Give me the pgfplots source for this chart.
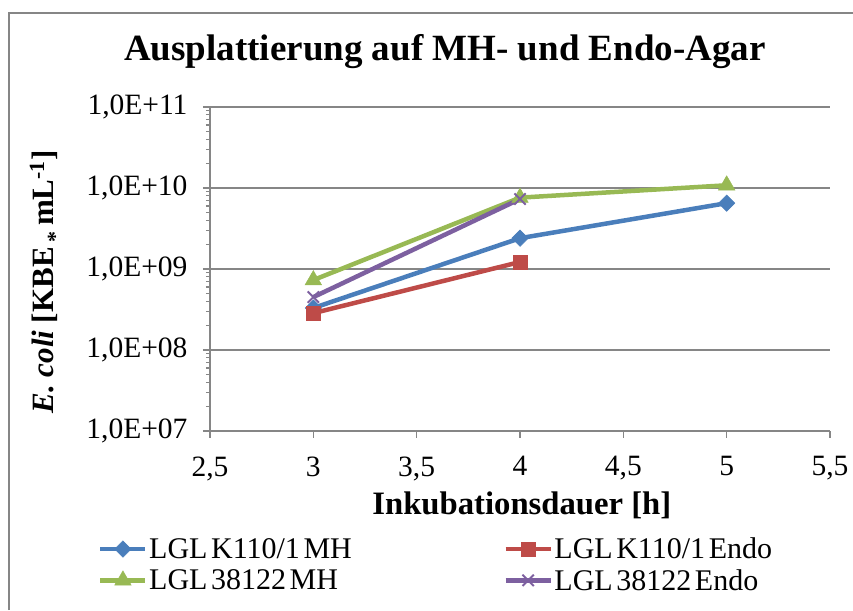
\documentclass[border=0pt]{standalone}
\usepackage{fontspec}
\setmainfont{Liberation Serif}
\usepackage{pgfplots}
\pgfplotsset{compat=1.18}
\definecolor{cblue}{RGB}{74,126,187}
\definecolor{cred}{RGB}{190,75,72}
\definecolor{cgreen}{RGB}{152,185,84}
\definecolor{cpurple}{RGB}{125,96,160}
\definecolor{gridgray}{RGB}{134,134,134}
\newcommand{\ns}{\hspace{0.12em}}
\begin{document}
\begin{tikzpicture}
\useasboundingbox (-205pt,-179pt) rectangle (648pt,431pt);
\draw[color=gridgray, line width=1.2pt] (-196pt,-179pt) -- (-196pt,418pt) -- (648pt,418pt);
\begin{axis}[
  at={(5pt,0pt)}, anchor=south west,
  scale only axis, width=620pt, height=324pt,
  ymode=log, xmin=2.5, xmax=5.5, ymin=1e7, ymax=1e11,
  /pgf/number format/assume math mode=true,
  axis x line*=bottom, axis y line*=left,
  axis line style={gridgray, line width=1.2pt},
  xtick={2.5,3,3.5,4,4.5,5,5.5},
  xticklabels={{2,5},3,{3,5},4,{4,5},5,{5,5}},
  ytick={1e7,1e8,1e9,1e10,1e11},
  yticklabels={{1,0E+07},{1,0E+08},{1,0E+09},{1,0E+10},{1,0E+11}},
  minor ytick={2e7,3e7,4e7,5e7,6e7,7e7,8e7,9e7,2e8,3e8,4e8,5e8,6e8,7e8,8e8,9e8,2e9,3e9,4e9,5e9,6e9,7e9,8e9,9e9,2e10,3e10,4e10,5e10,6e10,7e10,8e10,9e10},
  ymajorgrids, yminorgrids=false,
  grid style={gridgray, line width=1.2pt},
  tick style={gridgray, line width=1.2pt},
  tick align=outside, major tick length=7pt, minor tick length=4pt,
  ticklabel style={font=\fontsize{29.5}{32}\selectfont},
  xticklabel style={yshift=-15pt},
  yticklabel style={xshift=-12pt},
  title={Ausplattierung auf MH- und Endo-Agar},
  title style={font=\fontsize{37}{44}\selectfont\bfseries, at={(axis description cs:0.379,1.154)}, anchor=center},
  xlabel={Inkubationsdauer [h]},
  xlabel style={font=\fontsize{32.7}{36}\selectfont\bfseries, at={(axis description cs:0.503,-0.231)}, anchor=center},
  ylabel={\textit{E. coli} [KBE\,\raisebox{-0.3em}{\fontsize{22}{22}\selectfont *}\,mL\textsuperscript{-1}]},
  ylabel style={font=\fontsize{31}{36}\selectfont\bfseries, at={(axis description cs:-0.2645,0.46)}, anchor=center},
  legend columns=2,
  legend style={at={(axis description cs:-0.1855,-0.3185)}, anchor=north west, draw=none, fill=none,
    font=\fontsize{30}{32}\selectfont, nodes={inner sep=1.5pt},
    /tikz/column 2/.style={column sep=150pt}, /tikz/row sep=6pt},
  legend cell align=left,
  legend image code/.code={\draw[mark repeat=2,mark phase=2,#1] plot coordinates {(0pt,0pt) (22.5pt,0pt) (45pt,0pt)};},
  every axis plot/.append style={line width=4.5pt},
]
\addplot[cblue, mark=square*, mark size=5.8pt, mark options={rotate=45, line width=0.5pt}] coordinates {(3,3.3e8) (4,2.4e9) (5,6.5e9)};
\addlegendentry{LGL\ns K110/1\ns MH}
\addplot[cred, mark=square*, mark size=7pt, mark options={line width=0.5pt}] coordinates {(3,2.85e8) (4,1.22e9)};
\addlegendentry{LGL\ns K110/1\ns Endo}
\addplot[cgreen, mark=triangle*, mark size=9.5pt, mark options={line width=0.5pt}] coordinates {(3,7.3e8) (4,7.6e9) (5,1.08e10)};
\addlegendentry{LGL\ns 38122\ns MH}
\addplot[cpurple, mark=x, mark size=8pt, mark options={line width=2pt}] coordinates {(3,4.5e8) (4,7.3e9)};
\addlegendentry{LGL\ns 38122\ns Endo}
\end{axis}
\end{tikzpicture}
\end{document}
